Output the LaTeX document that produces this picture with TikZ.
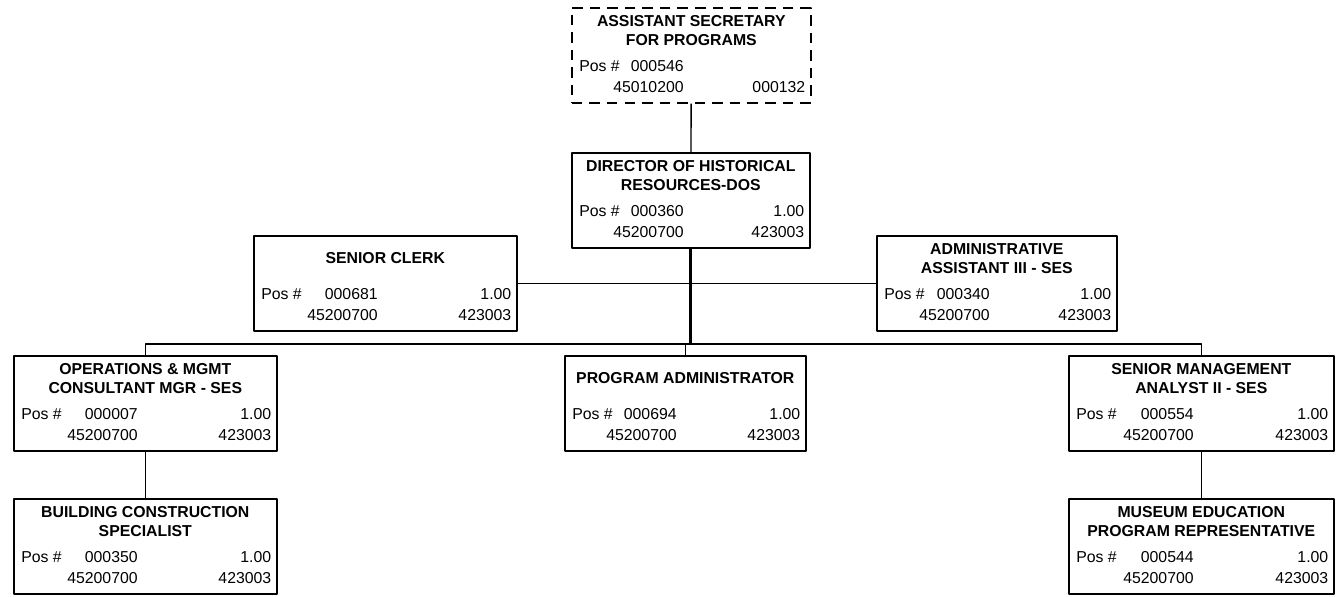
\documentclass[tikz,border=0pt]{standalone}
\usepackage{fontspec}
\setmainfont{Liberation Sans}
\newcommand{\jobfont}{\fontsize{9}{10.8}\selectfont}
\tikzset{
  jobbox/.style={draw, line width=0.9pt, inner sep=0pt, anchor=north west, minimum height=1.9cm, jobextra},
  jobextra/.style={},
  jobtitle/.style={font=\jobfont\bfseries, align=center, inner sep=0pt},
  jobtext/.style={font=\jobfont, inner sep=0pt},
  link/.style={line width=0.8pt},
  trunk/.style={line width=1.5pt},
}
% #1 name, #2 top left, #3 width, #4 number column, #5 title,
% #6 position no., #7 fte, #8 org code, #9 class code
\newcommand{\job}[9]{%
  \node[jobbox, minimum width=#3*0.02cm] (#1) at (#2) {};
  \node[jobtitle] (#1-t) at ([shift={(0,23.5)}]#1.north) {#5};
  \node[jobtext, anchor=base west] (#1-p) at ([shift={(8,64)}]#1.north west) {Pos \#};
  \node[jobtext, anchor=base east] (#1-n) at ([shift={(#4,64)}]#1.north west) {#6};
  \node[jobtext, anchor=base east] (#1-f) at ([shift={(-6,64)}]#1.north east) {#7};
  \node[jobtext, anchor=base east] (#1-o) at ([shift={(#4,85)}]#1.north west) {#8};
  \node[jobtext, anchor=base east] (#1-c) at ([shift={(-6,85)}]#1.north east) {#9};
}
\begin{document}
\begin{tikzpicture}[x=0.02cm, y=-0.02cm, line join=round]
\useasboundingbox (0,0) rectangle (1336,596);
% boxes
\begin{scope}[jobextra/.style={dash pattern=on 6pt off 4pt}]
\job{asst}{571,7}{239}{113}{ASSISTANT SECRETARY\\FOR PROGRAMS}{000546}{}{45010200}{000132}
\end{scope}
\job{dir}{571,152}{238}{113}{DIRECTOR OF HISTORICAL\\RESOURCES-DOS}{000360}{1.00}{45200700}{423003}
\job{clerk}{253,235}{263}{125}{SENIOR CLERK}{000681}{1.00}{45200700}{423003}
\job{admin}{876,235}{240}{114}{ADMINISTRATIVE\\ASSISTANT III - SES}{000340}{1.00}{45200700}{423003}
\job{ops}{13,355}{263}{125}{OPERATIONS \& MGMT\\CONSULTANT MGR - SES}{000007}{1.00}{45200700}{423003}
\job{pa}{564,355}{241}{113}{PROGRAM ADMINISTRATOR}{000694}{1.00}{45200700}{423003}
\job{smg}{1068,355}{265}{126}{SENIOR MANAGEMENT\\ANALYST II - SES}{000554}{1.00}{45200700}{423003}
\job{bld}{13,498}{263}{125}{BUILDING CONSTRUCTION\\SPECIALIST}{000350}{1.00}{45200700}{423003}
\job{mus}{1068,498}{265}{126}{MUSEUM EDUCATION\\PROGRAM REPRESENTATIVE}{000544}{1.00}{45200700}{423003}
% lines
\coordinate (bus) at (691,344);
\draw[link] (asst) -- (dir);
\draw[trunk] (dir) -- (dir |- bus);
\draw[link] (clerk) -- (admin);
\draw[link] (ops) -- (ops |- bus) -- (smg |- bus) -- (smg);
\draw[link] (pa) -- (pa |- bus);
\draw[link] (ops) -- (bld);
\draw[link] (smg) -- (mus);
\end{tikzpicture}
\end{document}
